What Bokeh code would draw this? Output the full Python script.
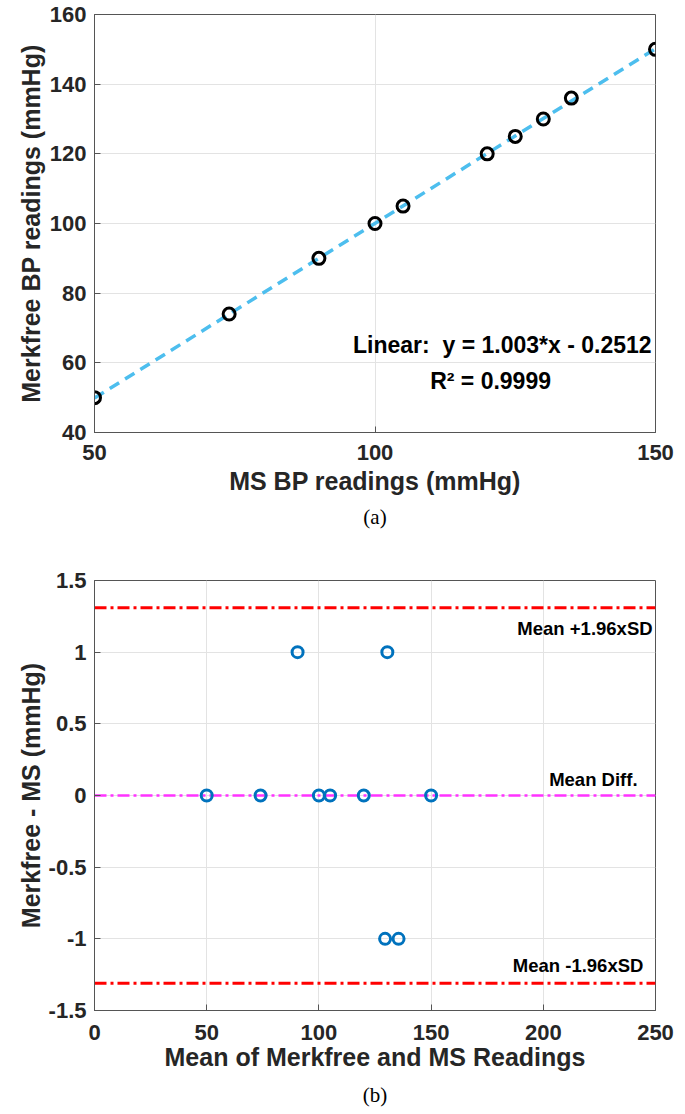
from bokeh.plotting import figure
from bokeh.models import Label, Title, FixedTicker, Range1d
from bokeh.layouts import column
from bokeh.embed import file_html
from bokeh.resources import INLINE

# ---------------- data ----------------
ms_bp = [50, 74, 90, 100, 105, 120, 125, 130, 135, 150]
merkfree_bp = [50, 74, 90, 100, 105, 120, 125, 130, 136, 150]
fit_slope = 1.003
fit_intercept = -0.2512
r_squared = 0.9999
fit_x = [50, 150]

ba_mean = [50, 74, 90.5, 100, 105, 120, 130.5, 129.5, 135.5, 150]
ba_diff = [0, 0, 1, 0, 0, 0, 1, -1, -1, 0]
mean_diff = 0.0
upper_loa = 1.31
lower_loa = -1.31

top_xticks = [50, 100, 150]
top_yticks = [40, 60, 80, 100, 120, 140, 160]
bot_xticks = [0, 50, 100, 150, 200, 250]
bot_yticks = [-1.5, -1, -0.5, 0, 0.5, 1, 1.5]
bot_ylabels = {-1.5: "-1.5", -1: "-1", -0.5: "-0.5", 0: "0", 0.5: "0.5", 1: "1", 1.5: "1.5"}

FONT = "Liberation Sans"
SERIF = "Liberation Serif"
TXT = "#262626"
BOX = "#555555"
GRID = "#e3e3e3"


def style(p, xticks, yticks):
    p.outline_line_color = BOX
    p.outline_line_width = 1
    for ax in p.xaxis + p.yaxis:
        ax.major_label_text_font = FONT
        ax.major_label_text_font_style = "bold"
        ax.major_label_text_font_size = "22px"
        ax.major_label_text_color = TXT
        ax.axis_label_text_font = FONT
        ax.axis_label_text_font_style = "bold"
        ax.axis_label_text_font_size = "25px"
        ax.axis_label_text_color = TXT
        ax.axis_line_color = BOX
        ax.major_tick_line_color = BOX
        ax.major_tick_in = 6
        ax.major_tick_out = 0
        ax.minor_tick_line_color = None
    p.xaxis.ticker = FixedTicker(ticks=xticks)
    p.yaxis.ticker = FixedTicker(ticks=yticks)
    p.xgrid.ticker = FixedTicker(ticks=xticks)
    p.ygrid.ticker = FixedTicker(ticks=yticks)
    p.xgrid.grid_line_color = GRID
    p.ygrid.grid_line_color = GRID
    p.yaxis.major_label_standoff = 8


# ---------------- panel (a) ----------------
p1 = figure(width=685, height=545, x_range=Range1d(50, 150), y_range=Range1d(40, 160),
            output_backend="svg", toolbar_location=None,
            min_border_left=92, min_border_right=29, min_border_top=14, min_border_bottom=113,
            x_axis_label="MS BP readings (mmHg)", y_axis_label="Merkfree BP readings (mmHg)")
style(p1, top_xticks, top_yticks)
p1.xaxis[0].major_label_standoff = 12
p1.xaxis[0].axis_label_standoff = 4
p1.yaxis[0].axis_label_standoff = 2

fit_y = [fit_slope * v + fit_intercept for v in fit_x]
p1.line(fit_x, fit_y, line_color="#4DBEEE", line_width=3.5, line_dash="11 7")
p1.scatter(ms_bp, merkfree_bp, marker="circle", size=12, fill_color=None,
           line_color="#000000", line_width=3)

p1.add_layout(Label(x=149.3, y=65.2,
                    text="Linear: \u00a0y = %.3f*x - %.4f" % (fit_slope, -fit_intercept),
                    text_align="right", text_baseline="middle", text_font=FONT,
                    text_font_style="bold", text_font_size="23px", text_color="#000000"))
p1.add_layout(Label(x=120.6, y=54.8, text="R\u00b2 = %.4f" % r_squared,
                    text_align="center", text_baseline="middle", text_font=FONT,
                    text_font_style="bold", text_font_size="23px", text_color="#000000"))
p1.add_layout(Title(text="(a)", align="center", text_font=SERIF, text_font_style="normal",
                    text_font_size="21px", text_color="#000000", standoff=10), "below")

# ---------------- panel (b) ----------------
p2 = figure(width=685, height=569, x_range=Range1d(0, 250), y_range=Range1d(-1.5, 1.5),
            output_backend="svg", toolbar_location=None,
            min_border_left=94, min_border_right=30, min_border_top=35, min_border_bottom=104,
            x_axis_label="Mean of Merkfree and MS Readings", y_axis_label="Merkfree - MS (mmHg)")
style(p2, bot_xticks, bot_yticks)
p2.yaxis[0].major_label_overrides = bot_ylabels
p2.xaxis[0].major_label_standoff = 14
p2.xaxis[0].axis_label_standoff = 0
p2.yaxis[0].axis_label_standoff = 1

p2.line([0, 250], [upper_loa, upper_loa], line_color="#FF0000", line_width=3, line_dash="12 4 3 4")
p2.line([0, 250], [lower_loa, lower_loa], line_color="#FF0000", line_width=3, line_dash="12 4 3 4")
p2.line([0, 250], [mean_diff, mean_diff], line_color="#FF33FF", line_width=2.5, line_dash="12 4 3 4")
p2.scatter(ba_mean, ba_diff, marker="circle", size=11, fill_color=None,
           line_color="#0072BD", line_width=3)

lab_kw = dict(text_align="right", text_baseline="middle", text_font=FONT,
              text_font_style="bold", text_font_size="18.5px", text_color="#000000")
p2.add_layout(Label(x=248.7, y=1.165, text="Mean +1.96xSD", **lab_kw))
p2.add_layout(Label(x=242, y=0.11, text="Mean Diff.", **lab_kw))
p2.add_layout(Label(x=244.6, y=-1.187, text="Mean -1.96xSD", **lab_kw))
p2.add_layout(Title(text="(b)", align="center", text_font=SERIF, text_font_style="normal",
                    text_font_size="21px", text_color="#000000", standoff=14), "below")

layout = column(p1, p2, spacing=0)
open("out.html", "w").write(file_html(layout, INLINE))
